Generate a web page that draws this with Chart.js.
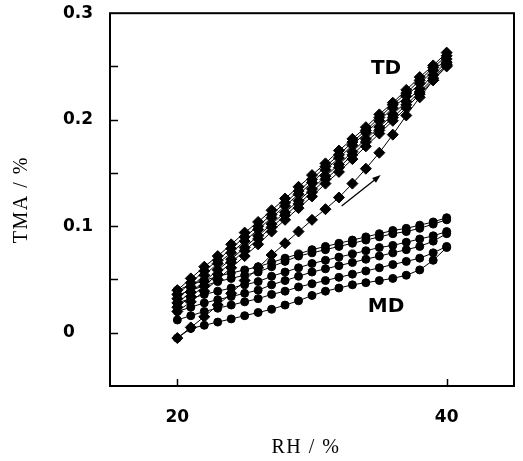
<!DOCTYPE html>
<html>
<head>
<meta charset="utf-8">
<script src="https://cdn.jsdelivr.net/npm/chart.js@4.4.0/dist/chart.umd.min.js"></script>
<style>
  body { margin: 0; background: #fff; }
  #wrap { width: 523px; height: 461px; }
</style>
</head>
<body>
<div id="wrap"><canvas id="chart" width="523" height="461"></canvas></div>
<script>
// RH steps shared by every sweep
const rh = [20, 21, 22, 23, 24, 25, 26, 27, 28, 29, 30, 31, 32, 33, 34, 35, 36, 37, 38, 39, 40];

// TD: first humidification run, then the repeated cycles
const tdFirst = [-0.005, 0.005, 0.015, 0.026, 0.037, 0.049, 0.061, 0.073, 0.084, 0.095, 0.106, 0.116, 0.127, 0.140, 0.154, 0.169, 0.186, 0.204, 0.221, 0.237, 0.251];
const tdCycle1 = [0.020, 0.029, 0.039, 0.050, 0.061, 0.072, 0.083, 0.095, 0.106, 0.117, 0.128, 0.140, 0.151, 0.163, 0.175, 0.187, 0.199, 0.211, 0.224, 0.237, 0.250];
const tdCycle2 = [0.024, 0.034, 0.044, 0.055, 0.066, 0.077, 0.088, 0.099, 0.110, 0.121, 0.132, 0.144, 0.155, 0.167, 0.179, 0.190, 0.202, 0.214, 0.226, 0.239, 0.252];
const tdCycle3 = [0.028, 0.038, 0.048, 0.059, 0.069, 0.080, 0.091, 0.102, 0.113, 0.124, 0.135, 0.147, 0.158, 0.170, 0.182, 0.193, 0.205, 0.217, 0.229, 0.242, 0.254];
const tdCycle4 = [0.032, 0.043, 0.054, 0.065, 0.075, 0.086, 0.097, 0.108, 0.119, 0.130, 0.141, 0.153, 0.164, 0.176, 0.188, 0.199, 0.211, 0.222, 0.234, 0.246, 0.257];
const tdCycle5 = [0.036, 0.047, 0.058, 0.068, 0.079, 0.090, 0.100, 0.111, 0.122, 0.133, 0.144, 0.156, 0.167, 0.179, 0.190, 0.202, 0.214, 0.225, 0.237, 0.249, 0.260];
const tdCycle6 = [0.040, 0.051, 0.062, 0.072, 0.083, 0.094, 0.104, 0.115, 0.126, 0.137, 0.148, 0.159, 0.171, 0.182, 0.193, 0.205, 0.216, 0.228, 0.240, 0.251, 0.263];

// MD: first run, then the cycles
const mdFirst = [-0.005, 0.004, 0.007, 0.010, 0.013, 0.016, 0.019, 0.022, 0.026, 0.030, 0.035, 0.039, 0.042, 0.045, 0.047, 0.049, 0.051, 0.054, 0.059, 0.068, 0.080];
const mdCycle1 = [0.012, 0.016, 0.020, 0.023, 0.026, 0.029, 0.032, 0.036, 0.039, 0.043, 0.046, 0.049, 0.052, 0.055, 0.058, 0.061, 0.064, 0.067, 0.070, 0.075, 0.081];
const mdCycle2 = [0.020, 0.024, 0.028, 0.031, 0.034, 0.037, 0.040, 0.045, 0.049, 0.053, 0.057, 0.060, 0.063, 0.066, 0.069, 0.072, 0.075, 0.078, 0.081, 0.086, 0.093];
const mdCycle3 = [0.028, 0.032, 0.036, 0.039, 0.042, 0.045, 0.048, 0.053, 0.057, 0.061, 0.065, 0.068, 0.071, 0.074, 0.077, 0.080, 0.082, 0.085, 0.088, 0.091, 0.095];
const mdCycle4 = [0.035, 0.040, 0.044, 0.048, 0.051, 0.054, 0.057, 0.062, 0.067, 0.072, 0.075, 0.078, 0.081, 0.084, 0.087, 0.090, 0.093, 0.095, 0.098, 0.102, 0.106];
const mdCycle5 = [0.040, 0.045, 0.049, 0.053, 0.056, 0.059, 0.062, 0.066, 0.070, 0.074, 0.078, 0.081, 0.084, 0.087, 0.090, 0.093, 0.096, 0.098, 0.101, 0.104, 0.108];

const xTicks = [20, 40];
const yLabelTicks = [0, 0.1, 0.2, 0.3];

// annotations (data coordinates)
const arrowFrom = [32.2, 0.119];
const arrowTo = [35.1, 0.148];
const tdLabel = { text: 'TD', x: 35.5, y: 0.250 };
const mdLabel = { text: 'MD', x: 35.5, y: 0.026 };

const tdSeries = [tdFirst, tdCycle1, tdCycle2, tdCycle3, tdCycle4, tdCycle5, tdCycle6];
const mdSeries = [mdFirst, mdCycle1, mdCycle2, mdCycle3, mdCycle4, mdCycle5];

function sweep(values, style, radius) {
    return {
        data: rh.map((x, i) => ({ x: x, y: values[i] })),
        showLine: true,
        borderColor: '#000',
        borderWidth: 1,
        pointStyle: style,
        pointRadius: radius,
        pointBackgroundColor: '#000',
        pointBorderColor: '#000',
        pointBorderWidth: 1
    };
}

const datasets = [];
tdSeries.forEach(s => datasets.push(sweep(s, 'rectRot', 5.5)));
mdSeries.forEach(s => datasets.push(sweep(s, 'circle', 4)));

const tickFont = { family: 'DejaVu Sans', size: 17, weight: 'bold' };

// frame, inward ticks, arrow and text
const decorations = {
    id: 'decorations',
    afterDraw(chart) {
        const ctx = chart.ctx;
        const a = chart.chartArea;
        const xs = chart.scales.x;
        const ys = chart.scales.y;
        ctx.save();
        ctx.strokeStyle = '#000';
        ctx.fillStyle = '#000';

        ctx.lineWidth = 2;
        ctx.strokeRect(a.left, a.top, a.right - a.left, a.bottom - a.top);

        ctx.lineWidth = 1.5;
        ys.ticks.forEach(t => {
            if (t.value <= ys.min + 1e-9 || t.value >= ys.max - 1e-9) return;
            const y = Math.round(ys.getPixelForValue(t.value)) + 0.5;
            ctx.beginPath();
            ctx.moveTo(a.left, y);
            ctx.lineTo(a.left + 8, y);
            ctx.stroke();
        });
        xTicks.forEach(v => {
            const x = Math.round(xs.getPixelForValue(v)) + 0.5;
            ctx.beginPath();
            ctx.moveTo(x, a.bottom);
            ctx.lineTo(x, a.bottom - 7);
            ctx.stroke();
        });

        // arrow
        const x1 = xs.getPixelForValue(arrowFrom[0]), y1 = ys.getPixelForValue(arrowFrom[1]);
        const x2 = xs.getPixelForValue(arrowTo[0]), y2 = ys.getPixelForValue(arrowTo[1]);
        const ang = Math.atan2(y2 - y1, x2 - x1);
        ctx.lineWidth = 1.3;
        ctx.beginPath();
        ctx.moveTo(x1, y1);
        ctx.lineTo(x2 - 5 * Math.cos(ang), y2 - 5 * Math.sin(ang));
        ctx.stroke();
        ctx.beginPath();
        ctx.moveTo(x2, y2);
        ctx.lineTo(x2 - 9 * Math.cos(ang - 0.35), y2 - 9 * Math.sin(ang - 0.35));
        ctx.lineTo(x2 - 9 * Math.cos(ang + 0.35), y2 - 9 * Math.sin(ang + 0.35));
        ctx.closePath();
        ctx.fill();

        ctx.font = 'bold 20px "DejaVu Sans"';
        ctx.textAlign = 'center';
        ctx.textBaseline = 'middle';
        [tdLabel, mdLabel].forEach(l => {
            ctx.fillText(l.text, xs.getPixelForValue(l.x), ys.getPixelForValue(l.y) + 2);
        });

        // axis titles
        ctx.font = '20px "Liberation Serif"';
        ctx.letterSpacing = '1.5px';
        ctx.fillText('RH / %', (a.left + a.right) / 2 - 6, 448);
        ctx.translate(22, (a.top + a.bottom) / 2);
        ctx.rotate(-Math.PI / 2);
        ctx.fillText('TMA / %', 0, 0);
        ctx.restore();
    }
};

new Chart(document.getElementById('chart'), {
    type: 'scatter',
    data: { datasets: datasets },
    options: {
        responsive: false,
        animation: false,
        layout: { padding: { left: 63, right: 9, top: 13, bottom: 0 } },
        plugins: { legend: { display: false }, tooltip: { enabled: false } },
        scales: {
            x: {
                type: 'linear',
                min: 15,
                max: 45,
                afterBuildTicks: s => { s.ticks = xTicks.map(v => ({ value: v })); },
                afterFit: s => { s.height = 75; },
                grid: { display: false, drawTicks: false },
                border: { display: false },
                ticks: { font: tickFont, color: '#000', padding: 21, maxRotation: 0 }
            },
            y: {
                type: 'linear',
                min: -0.05,
                max: 0.3,
                afterFit: s => { s.width = 47; },
                grid: { display: false, drawTicks: false },
                border: { display: false },
                ticks: {
                    stepSize: 0.05,
                    font: tickFont,
                    color: '#000',
                    crossAlign: 'far',
                    autoSkip: false,
                    callback: v => {
                        const r = Math.round(v * 100) / 100;
                        return yLabelTicks.includes(r) ? String(r) : '';
                    }
                }
            }
        }
    },
    plugins: [decorations]
});
</script>
</body>
</html>
